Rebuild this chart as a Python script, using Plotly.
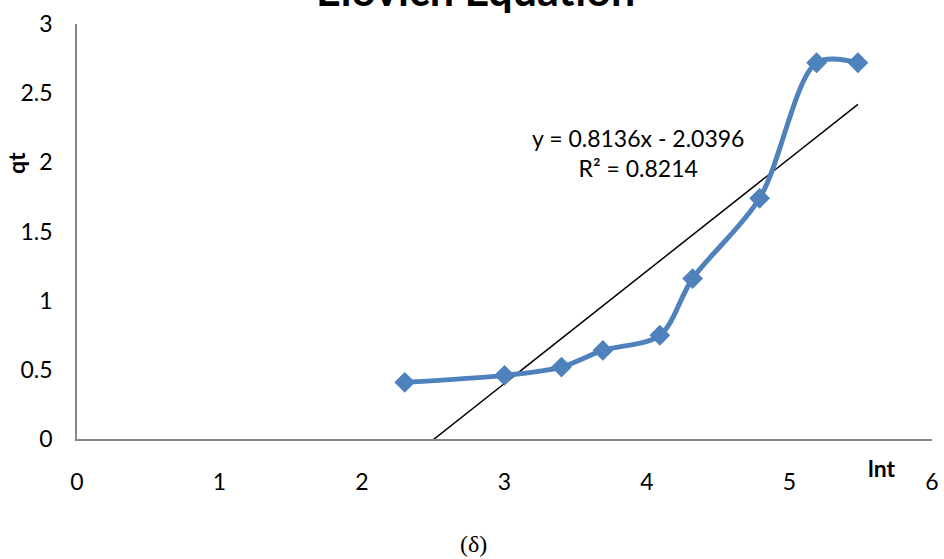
import plotly.graph_objects as go

# Elovich kinetics: qt against ln t
ln_t = [2.30, 3.00, 3.40, 3.69, 4.09, 4.32, 4.79, 5.19, 5.48]
qt = [0.41, 0.46, 0.52, 0.64, 0.75, 1.16, 1.74, 2.72, 2.72]

# linear trendline as reported on the chart
slope = 0.8136
intercept = -2.0396
r_squared = 0.8214

x_ticks = [0, 1, 2, 3, 4, 5, 6]
y_ticks = [0, 0.5, 1, 1.5, 2, 2.5, 3]

W, H = 944, 559
L, R, T, B = 77, 12, 24, 120
pw, ph = W - L - R, H - T - B


def px(xp):
    return (xp - L) / pw


def py(yp):
    return (H - B - yp) / ph


FONT = "Lato, Calibri, Arial"
label_font = dict(family=FONT, size=23, color="#000000")

fig = go.Figure()

trend_x = [min(ln_t), max(ln_t)]
trend_y = [slope * v + intercept for v in trend_x]
fig.add_trace(go.Scatter(
    x=trend_x, y=trend_y, mode="lines",
    line=dict(color="#000000", width=1.5),
    hoverinfo="skip", showlegend=False,
))

fig.add_trace(go.Scatter(
    x=ln_t, y=qt, mode="lines+markers",
    line=dict(color="#4F81BD", width=5, shape="spline", smoothing=0.9),
    marker=dict(symbol="diamond", size=16, color="#4F81BD"),
    showlegend=False,
))

fig.update_layout(
    width=W, height=H,
    margin=dict(l=L, r=R, t=T, b=B),
    plot_bgcolor="#FFFFFF", paper_bgcolor="#FFFFFF",
    xaxis=dict(
        range=[0, 6], tickvals=x_ticks, ticktext=[str(v) for v in x_ticks],
        showgrid=False, zeroline=False, showline=True, automargin=False,
        linecolor="#868686", linewidth=1.5, ticks="",
        tickfont=label_font, ticklabelstandoff=22,
    ),
    yaxis=dict(
        range=[0, 3], tickvals=y_ticks, ticktext=[f"{v:g}" for v in y_ticks],
        showgrid=False, zeroline=False, showline=True, automargin=False,
        linecolor="#868686", linewidth=1.5, ticks="",
        tickfont=label_font, ticklabelstandoff=18,
    ),
    annotations=[
        dict(text="<b>Elovich Equation</b>", xref="paper", yref="paper",
             x=px(475), y=py(17), xanchor="center", yanchor="bottom",
             showarrow=False,
             font=dict(family=FONT, size=43, color="#000000")),
        dict(text=f"y = {slope}x - {abs(intercept)}<br>R² = {r_squared}",
             xref="paper", yref="paper", x=px(638), y=py(153),
             xanchor="center", yanchor="middle", showarrow=False,
             font=label_font),
        dict(text="<b>qt</b>", xref="paper", yref="paper",
             x=px(16), y=py(163), xanchor="center", yanchor="middle",
             textangle=-90, showarrow=False, font=label_font),
        dict(text="<b>lnt</b>", xref="paper", yref="paper",
             x=px(882), y=py(468), xanchor="center", yanchor="middle",
             showarrow=False, font=label_font),
        dict(text="(δ)", xref="paper", yref="paper",
             x=px(473), y=py(544), xanchor="center", yanchor="middle",
             showarrow=False,
             font=dict(family="Liberation Serif, Times New Roman", size=24,
                       color="#000000")),
    ],
)

fig.write_html("out.html")
